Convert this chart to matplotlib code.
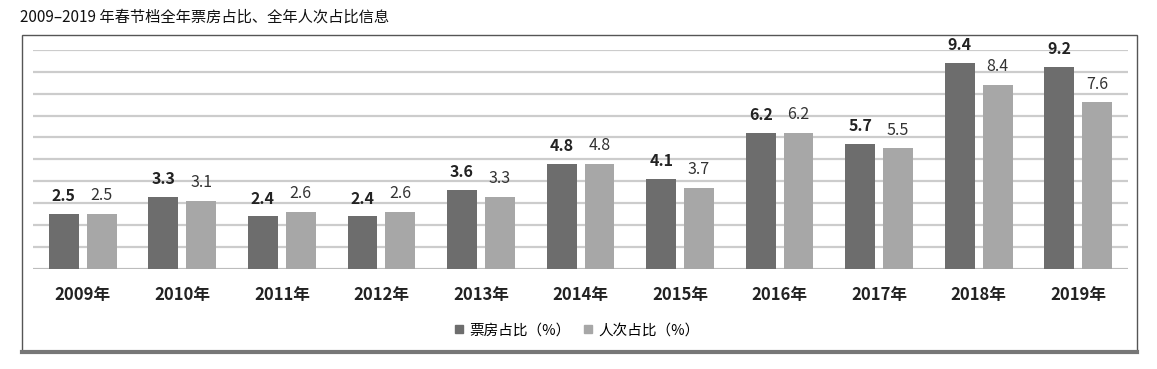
import matplotlib.pyplot as plt
from matplotlib.patches import Rectangle
from matplotlib.lines import Line2D
import numpy as np

plt.rcParams['font.family'] = ['Noto Sans CJK SC', 'DejaVu Sans']

# datos del grafico
anios = ['2009年', '2010年', '2011年', '2012年', '2013年', '2014年',
         '2015年', '2016年', '2017年', '2018年', '2019年']
taquilla = [2.5, 3.3, 2.4, 2.4, 3.6, 4.8, 4.1, 6.2, 5.7, 9.4, 9.2]
asistencia = [2.5, 3.1, 2.6, 2.6, 3.3, 4.8, 3.7, 6.2, 5.5, 8.4, 7.6]
series = ['票房占比（%）', '人次占比（%）']

oscuro = '#6d6d6d'
claro = '#a7a7a7'

fig = plt.figure(figsize=(11.57, 3.69), dpi=100)
ax = fig.add_axes([0.0285, 0.271, 0.9465, 0.594])

x = np.arange(len(anios))
ax.bar(x - 0.19, taquilla, width=0.30, color=oscuro, zorder=3)
ax.bar(x + 0.19, asistencia, width=0.30, color=claro, zorder=3)

for i in range(len(anios)):
    ax.text(x[i] - 0.19, taquilla[i] + 0.45, f'{taquilla[i]:.1f}', ha='center', va='bottom',
            fontsize=11.5, fontweight='bold', color='#222222')
    ax.text(x[i] + 0.19, asistencia[i] + 0.45, f'{asistencia[i]:.1f}', ha='center', va='bottom',
            fontsize=11.5, color='#333333')

ax.set_xlim(-0.5, len(anios) - 0.5)
ax.set_ylim(0, 10)
ax.set_yticks(np.arange(0, 11, 1))
ax.yaxis.grid(True, color='#cccccc', linewidth=1.6, zorder=0)
ax.set_yticklabels([])
ax.tick_params(axis='y', length=0)
ax.set_xticks(x)
ax.set_xticklabels(anios, fontsize=12, fontweight='bold', color='#222222')
ax.tick_params(axis='x', length=0, pad=12)
for s in ax.spines.values():
    s.set_visible(False)
ax.axhline(0, color='#bbbbbb', linewidth=2, zorder=2)

# leyenda
handles = [Line2D([], [], marker='s', linestyle='', markersize=6, color=oscuro),
           Line2D([], [], marker='s', linestyle='', markersize=6, color=claro)]
fig.legend(handles, series, loc='center', bbox_to_anchor=(0.497, 0.105), ncol=2,
           frameon=False, fontsize=10.5, handletextpad=0.1, columnspacing=0.6,
           handlelength=1.2)

# marco
fig.add_artist(Rectangle((22 / 1157, 1 - 352 / 369), 1115 / 1157, 317 / 369,
                         transform=fig.transFigure, fill=False, edgecolor='#555555', linewidth=1))
fig.add_artist(Line2D([22 / 1157, 1137 / 1157], [1 - 352 / 369, 1 - 352 / 369],
                      transform=fig.transFigure, color='#777777', linewidth=3))

fig.text(20 / 1157, 1 - 17 / 369, '2009–2019 年春节档全年票房占比、全年人次占比信息',
         ha='left', va='center', fontsize=11, color='#111111')

plt.savefig('out.png', dpi=100)
